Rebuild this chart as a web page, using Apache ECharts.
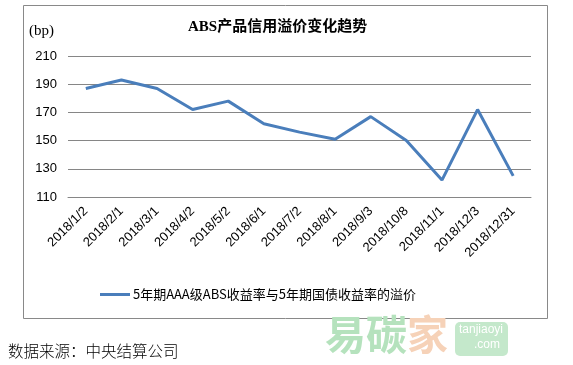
<!DOCTYPE html>
<html><head><meta charset="utf-8">
<script src="https://cdn.jsdelivr.net/npm/echarts@6/dist/echarts.min.js"></script>
<style>html,body{margin:0;padding:0;background:#fff}#c{width:573px;height:365px}</style>
</head><body><div id="c"></div>
<script>
const categories = ['2018/1/2','2018/2/1','2018/3/1','2018/4/2','2018/5/2','2018/6/1','2018/7/2','2018/8/1','2018/9/3','2018/10/8','2018/11/1','2018/12/3','2018/12/31'];
const spread = [187, 193, 187, 172, 178, 162, 156, 151, 167, 150, 122, 172, 125];
const seriesName = '5年期AAA级ABS收益率与5年期国债收益率的溢价';
const titleText = 'ABS产品信用溢价变化趋势';
const unitText = '(bp)';
const sourceText = '数据来源：中央结算公司';

const chart = echarts.init(document.getElementById('c'), null, {renderer:'canvas'});
chart.setOption({
  animation:false,
  backgroundColor:'#fff',
  title:{text:titleText,left:183,top:15,textStyle:{fontFamily:'Liberation Serif, Noto Sans CJK SC',fontSize:15,fontWeight:'bold',color:'#000'}},
  grid:{left:68,right:42,top:56,bottom:168},
  legend:{data:[seriesName],left:100,top:288,padding:0,itemWidth:30,itemHeight:3,icon:'rect',itemGap:4,
    textStyle:{fontFamily:'Noto Sans CJK SC',fontSize:13,color:'#000',padding:[0,0,0,-2]}},
  xAxis:{type:'category',data:categories,boundaryGap:true,
    axisLine:{lineStyle:{color:'#868686',width:1}},axisTick:{show:false},
    axisLabel:{rotate:45,fontSize:13,color:'#000',fontFamily:'Liberation Sans',margin:12,interval:0}},
  yAxis:{type:'value',min:110,max:210,interval:20,
    axisLine:{show:false},axisTick:{show:false},
    splitLine:{lineStyle:{color:'#868686',width:1}},
    axisLabel:{fontSize:13,color:'#000',fontFamily:'Liberation Sans',margin:11}},
  series:[{name:seriesName,type:'line',data:spread,symbol:'none',
    lineStyle:{color:'#4A7EBB',width:3},itemStyle:{color:'#4A7EBB'}}],
  graphic:[
    {type:'rect',shape:{x:23.5,y:5.5,width:524,height:313},style:{fill:null,stroke:'#898989',lineWidth:1},z:-1},
    {type:'text',left:29,top:24,style:{text:unitText,fontSize:15,fontFamily:'Liberation Serif',fill:'#000'}},
    {type:'text',left:325,top:314,style:{text:'易碳',fontSize:41,fontWeight:'bold',fontFamily:'Noto Sans CJK SC',fill:'#b5e2bd'}},
    {type:'text',left:407,top:314,style:{text:'家',fontSize:41,fontWeight:'bold',fontFamily:'Noto Sans CJK SC',fill:'#f6d2b8'}},
    {type:'rect',shape:{x:455,y:322,width:53,height:34,r:5},style:{fill:'#c4e8cb'}},
    {type:'text',left:459,top:324,style:{text:'tanjiaoyi',fontSize:12,fontFamily:'Liberation Sans',fill:'#fff'}},
    {type:'text',left:474,top:339,style:{text:'.com',fontSize:12,fontFamily:'Liberation Sans',fill:'#fff'}},
    {type:'text',left:8,top:343,style:{text:sourceText,fontSize:15.5,fontFamily:'Noto Sans CJK SC',fontWeight:300,fill:'#000'}}
  ]
});
</script></body></html>
